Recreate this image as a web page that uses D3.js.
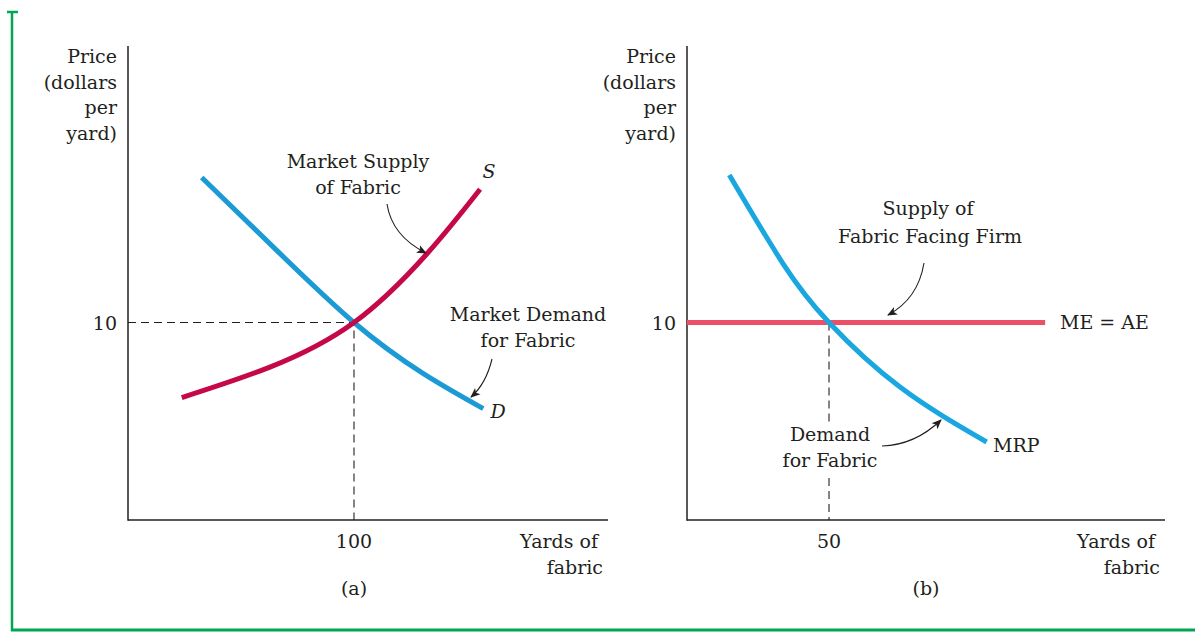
<!DOCTYPE html>
<html><head><meta charset="utf-8">
<script src="https://cdn.jsdelivr.net/npm/d3@7"></script>
<style>
html,body{margin:0;padding:0;background:#fff;}
svg text{font-family:"DejaVu Serif",serif;font-size:19px;fill:#231f20;}
</style></head>
<body><svg id="c" width="1195" height="632"></svg>
<script>
// ---- data ----
const yTicks = [10];
const xTicksA = [100];
const xTicksB = [50];
const yLabel = ["Price", "(dollars", "per", "yard)"];
const xLabel = ["Yards of", "fabric"];
// panel (a): market demand (x = yards, y = price)
const demandA_x = [32.6, 65.0, 100, 130.7, 157.2];
const demandA_y = [17.34, 13.74, 10, 7.41, 5.64];
// panel (a): market supply
const supplyA_x = [23.8, 62.8, 100, 132.2, 155.8];
const supplyA_y = [6.20, 7.74, 10, 13.47, 16.75];
// panel (b): MRP
const mrp_x = [14.9, 33.9, 50, 75.0, 105.5];
const mrp_y = [17.47, 12.96, 10, 6.73, 3.95];
// panel (b): ME = AE
const meae_x = [0, 126.1];
const meae_y = [10, 10];
const eqA = {q: 100, p: 10};
const eqB = {q: 50, p: 10};

const svg = d3.select("#c");
const green = "#00a651";
// frame
svg.append("line").attr("x1",12).attr("y1",11).attr("x2",12).attr("y2",631).attr("stroke",green).attr("stroke-width",2.5);
svg.append("line").attr("x1",7).attr("y1",12).attr("x2",18).attr("y2",12).attr("stroke",green).attr("stroke-width",2.5);
svg.append("line").attr("x1",11).attr("y1",630).attr("x2",1195).attr("y2",630).attr("stroke",green).attr("stroke-width",3);

svg.append("defs").append("marker").attr("id","ah").attr("viewBox","0 0 10 10")
  .attr("refX",9).attr("refY",5).attr("markerWidth",10).attr("markerHeight",10)
  .attr("markerUnits","userSpaceOnUse").attr("orient","auto")
  .append("path").attr("d","M0,0.8 L10,5 L0,9.2 L2.5,5 Z").attr("fill","#231f20");

function panel(o){
  const x = d3.scaleLinear().domain([0,o.xMax]).range([o.x0,o.x1]);
  const y = d3.scaleLinear().domain([0,24]).range([520,46]);
  const g = svg.append("g");
  g.append("line").attr("x1",o.x0).attr("x2",o.x0).attr("y1",y(24)).attr("y2",y(0)+0.75).attr("stroke","#231f20").attr("stroke-width",1.5);
  g.append("line").attr("x1",o.x0).attr("x2",o.x1).attr("y1",y(0)).attr("y2",y(0)).attr("stroke","#231f20").attr("stroke-width",1.5);
  yLabel.forEach((t,i)=>g.append("text").attr("x",o.x0-11).attr("y",63+i*25.5).attr("text-anchor","end").text(t));
  yTicks.forEach(v=>g.append("text").attr("x",o.x0-11).attr("y",y(v)+7).attr("text-anchor","end").text(v));
  o.xTicks.forEach(v=>g.append("text").attr("x",x(v)).attr("y",548).attr("text-anchor","middle").text(v));
  g.append("text").attr("x",o.x1-10).attr("y",548).attr("text-anchor","end").text(xLabel[0]);
  g.append("text").attr("x",o.x1-5).attr("y",574).attr("text-anchor","end").text(xLabel[1]);
  g.append("text").attr("x",o.tagX).attr("y",595).attr("text-anchor","middle").text(o.tag);
  return {x,y,g};
}

const dash = "8,5";
const line = (sx,sy)=>d3.line().x(d=>sx(d[0])).y(d=>sy(d[1])).curve(d3.curveNatural);
const zip = (a,b)=>a.map((v,i)=>[v,b[i]]);
function arrow(g,p0,c,p1){
  g.append("path").attr("d",`M${p0[0]},${p0[1]} Q${c[0]},${c[1]} ${p1[0]},${p1[1]}`)
    .attr("fill","none").attr("stroke","#231f20").attr("stroke-width",1.1).attr("marker-end","url(#ah)");
}

// ---- panel a ----
const A = panel({x0:128,x1:608,xMax:212.4,xTicks:xTicksA,tag:"(a)",tagX:354});
A.g.append("path").attr("d",`M${A.x(0)},${A.y(eqA.p)} H${A.x(eqA.q)} V${A.y(0)}`).attr("fill","none").attr("stroke","#231f20").attr("stroke-width",1.1).attr("stroke-dasharray",dash);
A.g.append("path").attr("d",line(A.x,A.y)(zip(demandA_x,demandA_y))).attr("fill","none").attr("stroke","#1c9ad6").attr("stroke-width",5);
A.g.append("path").attr("d",line(A.x,A.y)(zip(supplyA_x,supplyA_y))).attr("fill","none").attr("stroke","#c4084a").attr("stroke-width",5);
A.g.append("text").attr("x",358).attr("y",168).attr("text-anchor","middle").text("Market Supply");
A.g.append("text").attr("x",358).attr("y",194).attr("text-anchor","middle").text("of Fabric");
A.g.append("text").attr("x",489).attr("y",178).attr("text-anchor","middle").style("font-style","italic").text("S");
A.g.append("text").attr("x",528).attr("y",321).attr("text-anchor","middle").text("Market Demand");
A.g.append("text").attr("x",528).attr("y",347).attr("text-anchor","middle").text("for Fabric");
A.g.append("text").attr("x",498).attr("y",418).attr("text-anchor","middle").style("font-style","italic").text("D");
arrow(A.g,[387,204],[392,236],[426,253]);
arrow(A.g,[492,359],[486,384],[471,397]);

// ---- panel b ----
const B = panel({x0:687,x1:1165,xMax:168.3,xTicks:xTicksB,tag:"(b)",tagX:926});
B.g.append("line").attr("x1",B.x(eqB.q)).attr("x2",B.x(eqB.q)).attr("y1",B.y(eqB.p)).attr("y2",424).attr("stroke","#231f20").attr("stroke-width",1.1).attr("stroke-dasharray",dash);
B.g.append("line").attr("x1",B.x(eqB.q)).attr("x2",B.x(eqB.q)).attr("y1",478).attr("y2",B.y(0)).attr("stroke","#231f20").attr("stroke-width",1.1).attr("stroke-dasharray",dash);
B.g.append("path").attr("d",line(B.x,B.y)(zip(meae_x,meae_y))).attr("fill","none").attr("stroke","#ea5168").attr("stroke-width",5);
B.g.append("path").attr("d",line(B.x,B.y)(zip(mrp_x,mrp_y))).attr("fill","none").attr("stroke","#1aa7e0").attr("stroke-width",5);
B.g.append("text").attr("x",928).attr("y",215).attr("text-anchor","middle").text("Supply of");
B.g.append("text").attr("x",930).attr("y",243).attr("text-anchor","middle").text("Fabric Facing Firm");
B.g.append("text").attr("x",1060).attr("y",329).text("ME = AE");
B.g.append("text").attr("x",830).attr("y",441).attr("text-anchor","middle").text("Demand");
B.g.append("text").attr("x",830).attr("y",467).attr("text-anchor","middle").text("for Fabric");
B.g.append("text").attr("x",993).attr("y",452).text("MRP");
arrow(B.g,[924,263],[918,299],[888,315]);
arrow(B.g,[882,446],[915,445],[941,420]);
</script></body></html>
